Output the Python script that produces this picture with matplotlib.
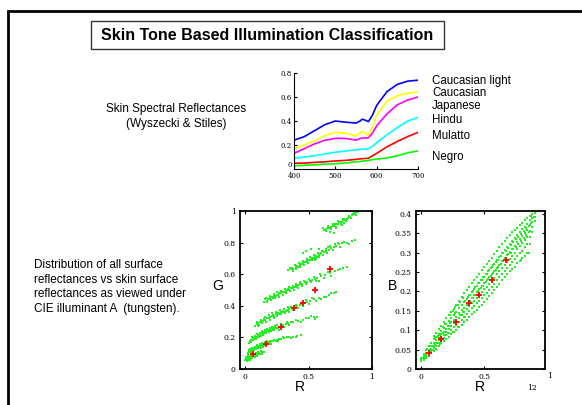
import matplotlib
matplotlib.use('Agg')
import matplotlib.pyplot as plt
from matplotlib.patches import Rectangle

plt.rcParams['font.family'] = ['Liberation Sans', 'DejaVu Sans']

# spectral reflectance curves (Wyszecki & Stiles)
wavelength = [400, 425, 450, 475, 500, 525, 550, 560, 565, 570, 580, 590, 600, 625, 650, 675, 700]
caucasian_light = [.24, .27, .32, .37, .40, .39, .383, .40, .415, .41, .395, .45, .53, .645, .705, .732, .74]
caucasian = [.17, .20, .235, .28, .305, .298, .275, .30, .315, .30, .28, .35, .45, .565, .61, .632, .64]
japanese = [.13, .17, .21, .24, .255, .255, .24, .255, .258, .258, .26, .30, .36, .46, .535, .575, .60]
hindu = [.09, .10, .11, .125, .14, .15, .16, .165, .165, .165, .168, .19, .22, .285, .345, .40, .43]
mulatto = [.048, .05, .055, .06, .067, .072, .08, .085, .086, .087, .09, .11, .13, .185, .23, .27, .305]
negro = [.028, .03, .035, .04, .044, .05, .06, .063, .065, .067, .072, .078, .083, .092, .11, .135, .15]
skin_names = ['Caucasian light', 'Caucasian', 'Japanese', 'Hindu', 'Mulatto', 'Negro']
skin_colors = ['#0000ff', '#ffff00', '#ff00ff', '#00ffff', '#ff0000', '#00ff00']

# all surfaces, (R, G) under illuminant A - the streaks in the left plot
rg_band1 = [(0.00, 0.060), (0.01, 0.065), (0.02, 0.070), (0.02, 0.058), (0.03, 0.075), (0.03, 0.066),
            (0.04, 0.072), (0.05, 0.080), (0.05, 0.070), (0.06, 0.085), (0.07, 0.082), (0.07, 0.092),
            (0.08, 0.090), (0.09, 0.095), (0.09, 0.086), (0.10, 0.098), (0.11, 0.100), (0.12, 0.097),
            (0.13, 0.104), (0.14, 0.106), (0.15, 0.110), (0.01, 0.075), (0.04, 0.062), (0.11, 0.092),
            (0.015, 0.052), (0.025, 0.080), (0.035, 0.060), (0.045, 0.088), (0.055, 0.072), (0.065, 0.098),
            (0.075, 0.078), (0.085, 0.102), (0.095, 0.084), (0.105, 0.108), (0.125, 0.112), (0.135, 0.096),
            (0.005, 0.068), (0.015, 0.062)]
rg_band2 = [(0.02, 0.100), (0.03, 0.110), (0.03, 0.120), (0.04, 0.118), (0.05, 0.125), (0.05, 0.115),
            (0.06, 0.128), (0.07, 0.132), (0.07, 0.122), (0.08, 0.135), (0.09, 0.140), (0.09, 0.130),
            (0.10, 0.142), (0.11, 0.145), (0.12, 0.150), (0.12, 0.140), (0.13, 0.152), (0.14, 0.155),
            (0.15, 0.150), (0.16, 0.160), (0.17, 0.162), (0.18, 0.165), (0.19, 0.170), (0.20, 0.168),
            (0.21, 0.175), (0.22, 0.176), (0.24, 0.180), (0.25, 0.185), (0.28, 0.190), (0.31, 0.195),
            (0.35, 0.200), (0.38, 0.205), (0.41, 0.210), (0.44, 0.215), (0.30, 0.200), (0.36, 0.195),
            (0.025, 0.098), (0.035, 0.128), (0.045, 0.108), (0.055, 0.135), (0.065, 0.115), (0.075, 0.142),
            (0.085, 0.125), (0.095, 0.150), (0.105, 0.132), (0.115, 0.158), (0.125, 0.135), (0.135, 0.165),
            (0.145, 0.142), (0.155, 0.170), (0.165, 0.150), (0.175, 0.175), (0.185, 0.158), (0.195, 0.180),
            (0.205, 0.160), (0.23, 0.185), (0.26, 0.175), (0.27, 0.192), (0.33, 0.205), (0.40, 0.203)]
rg_band3 = [(0.03, 0.165), (0.04, 0.180), (0.05, 0.185), (0.05, 0.175), (0.06, 0.195), (0.07, 0.190),
            (0.08, 0.200), (0.08, 0.210), (0.09, 0.205), (0.10, 0.212), (0.11, 0.215), (0.11, 0.205),
            (0.12, 0.220), (0.13, 0.225), (0.14, 0.222), (0.14, 0.232), (0.15, 0.230), (0.16, 0.236),
            (0.17, 0.240), (0.18, 0.238), (0.19, 0.245), (0.20, 0.248), (0.21, 0.252), (0.22, 0.250),
            (0.23, 0.258), (0.24, 0.260), (0.25, 0.262), (0.26, 0.258), (0.27, 0.268), (0.29, 0.272),
            (0.30, 0.276), (0.32, 0.282), (0.34, 0.288), (0.36, 0.295), (0.38, 0.298), (0.42, 0.305),
            (0.46, 0.312), (0.50, 0.320), (0.54, 0.326), (0.57, 0.332), (0.44, 0.300), (0.48, 0.322),
            (0.045, 0.170), (0.055, 0.200), (0.065, 0.182), (0.075, 0.212), (0.085, 0.192), (0.095, 0.222),
            (0.105, 0.200), (0.115, 0.230), (0.125, 0.210), (0.135, 0.240), (0.145, 0.218), (0.155, 0.248),
            (0.165, 0.225), (0.175, 0.255), (0.185, 0.232), (0.195, 0.262), (0.205, 0.238), (0.215, 0.268),
            (0.225, 0.245), (0.235, 0.272), (0.255, 0.280), (0.265, 0.250), (0.285, 0.285), (0.31, 0.265),
            (0.33, 0.295), (0.35, 0.280), (0.40, 0.310), (0.52, 0.335), (0.55, 0.318)]
rg_band4 = [(0.08, 0.270), (0.09, 0.285), (0.10, 0.290), (0.11, 0.280), (0.12, 0.298), (0.13, 0.300),
            (0.14, 0.305), (0.15, 0.315), (0.16, 0.310), (0.17, 0.320), (0.18, 0.325), (0.19, 0.322),
            (0.20, 0.332), (0.21, 0.335), (0.22, 0.340), (0.23, 0.338), (0.24, 0.345), (0.25, 0.350),
            (0.26, 0.352), (0.27, 0.350), (0.28, 0.358), (0.29, 0.362), (0.30, 0.365), (0.31, 0.362),
            (0.32, 0.370), (0.33, 0.375), (0.34, 0.372), (0.35, 0.380), (0.37, 0.385), (0.39, 0.390),
            (0.41, 0.398), (0.43, 0.402), (0.45, 0.410), (0.47, 0.418), (0.49, 0.425), (0.51, 0.432),
            (0.54, 0.440), (0.58, 0.450), (0.62, 0.458), (0.66, 0.470), (0.70, 0.480), (0.72, 0.490),
            (0.60, 0.442),
            (0.095, 0.300), (0.105, 0.275), (0.125, 0.312), (0.135, 0.290), (0.155, 0.328), (0.165, 0.300),
            (0.185, 0.340), (0.195, 0.312), (0.215, 0.352), (0.225, 0.325), (0.245, 0.362), (0.255, 0.335),
            (0.275, 0.372), (0.285, 0.345), (0.305, 0.382), (0.315, 0.352), (0.335, 0.390), (0.345, 0.362),
            (0.36, 0.395), (0.38, 0.372), (0.40, 0.408), (0.42, 0.385), (0.44, 0.420), (0.46, 0.400),
            (0.48, 0.435), (0.50, 0.412), (0.53, 0.450), (0.56, 0.430), (0.64, 0.455), (0.68, 0.478)]
rg_band5 = [(0.15, 0.425), (0.16, 0.440), (0.17, 0.430), (0.18, 0.445), (0.19, 0.440), (0.20, 0.450),
            (0.21, 0.455), (0.22, 0.452), (0.23, 0.462), (0.24, 0.465), (0.25, 0.470), (0.26, 0.468),
            (0.27, 0.478), (0.28, 0.480), (0.29, 0.485), (0.30, 0.490), (0.31, 0.488), (0.32, 0.495),
            (0.33, 0.500), (0.34, 0.505), (0.35, 0.502), (0.36, 0.510), (0.37, 0.515), (0.38, 0.512),
            (0.39, 0.520), (0.40, 0.525), (0.41, 0.522), (0.42, 0.530), (0.43, 0.535), (0.45, 0.540),
            (0.47, 0.548), (0.49, 0.552), (0.51, 0.560), (0.53, 0.565), (0.55, 0.572), (0.57, 0.578),
            (0.60, 0.590), (0.63, 0.598), (0.67, 0.610), (0.71, 0.622), (0.75, 0.635), (0.80, 0.648),
            (0.58, 0.560), (0.68, 0.590),
            (0.165, 0.450), (0.175, 0.425), (0.195, 0.462), (0.205, 0.438), (0.225, 0.475), (0.235, 0.450),
            (0.255, 0.485), (0.265, 0.458), (0.285, 0.495), (0.295, 0.470), (0.315, 0.505), (0.325, 0.482),
            (0.345, 0.518), (0.355, 0.492), (0.375, 0.528), (0.385, 0.500), (0.405, 0.538), (0.415, 0.510),
            (0.435, 0.548), (0.445, 0.525), (0.465, 0.560), (0.48, 0.535), (0.50, 0.572), (0.52, 0.548),
            (0.54, 0.582), (0.56, 0.560), (0.59, 0.600), (0.62, 0.578), (0.65, 0.612), (0.73, 0.625),
            (0.77, 0.642)]
rg_band6 = [(0.34, 0.625), (0.36, 0.630), (0.37, 0.640), (0.38, 0.635), (0.40, 0.645), (0.41, 0.652),
            (0.42, 0.648), (0.43, 0.660), (0.44, 0.665), (0.45, 0.662), (0.46, 0.672), (0.47, 0.678),
            (0.48, 0.675), (0.49, 0.685), (0.50, 0.690), (0.51, 0.688), (0.52, 0.698), (0.53, 0.702),
            (0.54, 0.700), (0.55, 0.710), (0.56, 0.715), (0.57, 0.712), (0.58, 0.722), (0.59, 0.728),
            (0.60, 0.732), (0.62, 0.740), (0.64, 0.748), (0.66, 0.755), (0.68, 0.765), (0.70, 0.772),
            (0.72, 0.780), (0.74, 0.790), (0.76, 0.795), (0.80, 0.800), (0.84, 0.808), (0.87, 0.815),
            (0.65, 0.770), (0.71, 0.790), (0.55, 0.690), (0.48, 0.750), (0.52, 0.760),
            (0.355, 0.640), (0.375, 0.620), (0.395, 0.658), (0.405, 0.635), (0.425, 0.670), (0.435, 0.648),
            (0.455, 0.685), (0.465, 0.660), (0.485, 0.698), (0.495, 0.672), (0.515, 0.710), (0.525, 0.688),
            (0.545, 0.722), (0.555, 0.698), (0.575, 0.735), (0.585, 0.710), (0.605, 0.748), (0.615, 0.722),
            (0.635, 0.760), (0.645, 0.735), (0.67, 0.778), (0.69, 0.752), (0.73, 0.795), (0.75, 0.772),
            (0.78, 0.805), (0.82, 0.790), (0.46, 0.735), (0.58, 0.760)]
rg_band7 = [(0.62, 0.880), (0.64, 0.885), (0.65, 0.895), (0.66, 0.890), (0.68, 0.900), (0.69, 0.908),
            (0.70, 0.905), (0.71, 0.915), (0.72, 0.920), (0.73, 0.918), (0.74, 0.928), (0.75, 0.932),
            (0.76, 0.930), (0.77, 0.940), (0.78, 0.945), (0.79, 0.950), (0.80, 0.948), (0.81, 0.958),
            (0.82, 0.962), (0.83, 0.965), (0.84, 0.972), (0.85, 0.978), (0.86, 0.982), (0.87, 0.988),
            (0.88, 0.992), (0.89, 0.996), (0.67, 0.870), (0.72, 0.895), (0.76, 0.910),
            (0.615, 0.890), (0.635, 0.872), (0.655, 0.905), (0.675, 0.885), (0.695, 0.918), (0.715, 0.900),
            (0.735, 0.935), (0.755, 0.915), (0.775, 0.950), (0.795, 0.935), (0.815, 0.968), (0.835, 0.955),
            (0.855, 0.985), (0.875, 0.975), (0.895, 0.998), (0.70, 0.860), (0.78, 0.925)]
rg_bands = [rg_band1, rg_band2, rg_band3, rg_band4, rg_band5, rg_band6, rg_band7]

# all surfaces, (R, B) - the wedge in the right plot, column by column
rb_columns = [
    (0.00, [.020, .023, .026, .029]),
    (0.02, [.024, .028, .031, .035, .039]),
    (0.04, [.028, .033, .037, .042, .049]),
    (0.06, [.034, .038, .044, .050, .058]),
    (0.08, [.040, .046, .051, .058, .068]),
    (0.10, [.046, .053, .060, .068, .078, .084]),
    (0.12, [.052, .060, .066, .074, .083, .093]),
    (0.14, [.058, .066, .074, .081, .090, .102]),
    (0.16, [.066, .072, .081, .089, .097, .110]),
    (0.18, [.071, .079, .088, .096, .106, .120]),
    (0.20, [.076, .088, .095, .104, .115, .131]),
    (0.22, [.083, .094, .102, .112, .123, .138]),
    (0.24, [.090, .101, .110, .120, .131, .147]),
    (0.26, [.096, .108, .118, .127, .139, .155]),
    (0.28, [.101, .114, .124, .135, .148, .165]),
    (0.30, [.107, .121, .132, .143, .156, .176]),
    (0.32, [.113, .127, .139, .151, .165, .185]),
    (0.34, [.120, .135, .146, .158, .172, .195]),
    (0.36, [.127, .141, .154, .166, .181, .203]),
    (0.38, [.134, .149, .161, .174, .190, .212]),
    (0.40, [.141, .156, .170, .182, .198, .222]),
    (0.42, [.147, .163, .176, .190, .206, .230]),
    (0.44, [.153, .171, .184, .198, .214, .238]),
    (0.46, [.160, .176, .191, .206, .222, .246]),
    (0.48, [.165, .183, .198, .213, .230, .254]),
    (0.50, [.172, .190, .205, .221, .238, .263]),
    (0.52, [.180, .197, .212, .228, .246, .270]),
    (0.54, [.188, .204, .220, .236, .254, .278]),
    (0.56, [.196, .212, .227, .244, .262, .286]),
    (0.58, [.204, .219, .235, .252, .270, .296]),
    (0.60, [.212, .228, .244, .260, .280, .305]),
    (0.62, [.220, .236, .252, .268, .289, .314]),
    (0.64, [.228, .244, .260, .277, .298, .322]),
    (0.66, [.236, .252, .268, .285, .306, .330]),
    (0.68, [.244, .260, .276, .294, .314, .338]),
    (0.70, [.252, .268, .284, .302, .322, .346]),
    (0.72, [.258, .276, .292, .310, .330, .352]),
    (0.74, [.264, .283, .300, .318, .338, .358]),
    (0.76, [.272, .290, .308, .326, .345, .364]),
    (0.78, [.278, .298, .316, .334, .352, .370]),
    (0.80, [.285, .305, .324, .342, .360, .376]),
    (0.82, [.292, .313, .332, .350, .367, .383]),
    (0.84, [.300, .322, .340, .357, .374, .389]),
    (0.86, [.322, .340, .356, .372, .385, .395]),
    (0.88, [.352, .366, .378, .390, .399]),
    (0.90, [.382, .392, .402]),
]
rb_cloud = [
    (0.01, 0.028), (0.03, 0.030), (0.03, 0.038), (0.05, 0.040), (0.05, 0.052), (0.07, 0.058),
    (0.07, 0.044), (0.09, 0.048), (0.09, 0.060), (0.11, 0.064), (0.11, 0.080), (0.13, 0.086),
    (0.13, 0.068), (0.15, 0.064), (0.15, 0.088), (0.17, 0.092), (0.17, 0.108), (0.19, 0.115),
    (0.19, 0.088), (0.21, 0.094), (0.21, 0.112), (0.23, 0.118), (0.23, 0.140), (0.25, 0.150),
    (0.25, 0.095), (0.27, 0.145), (0.27, 0.160), (0.29, 0.165), (0.29, 0.108), (0.31, 0.172),
    (0.31, 0.140), (0.33, 0.182), (0.33, 0.148), (0.35, 0.135), (0.35, 0.175), (0.37, 0.185),
    (0.37, 0.165), (0.39, 0.190), (0.39, 0.175), (0.41, 0.200), (0.41, 0.182), (0.43, 0.210),
    (0.43, 0.190), (0.45, 0.222), (0.45, 0.200), (0.47, 0.230), (0.47, 0.208), (0.49, 0.238),
    (0.49, 0.215), (0.51, 0.245), (0.51, 0.225), (0.53, 0.252), (0.53, 0.232), (0.55, 0.260),
    (0.55, 0.240), (0.57, 0.268), (0.57, 0.248), (0.59, 0.275), (0.59, 0.255), (0.61, 0.282),
    (0.61, 0.262), (0.63, 0.290), (0.63, 0.270), (0.65, 0.298), (0.65, 0.278), (0.67, 0.305),
    (0.67, 0.285), (0.69, 0.312), (0.69, 0.295), (0.71, 0.320), (0.71, 0.300), (0.73, 0.328),
    (0.73, 0.308), (0.75, 0.335), (0.75, 0.315), (0.77, 0.340), (0.77, 0.322), (0.79, 0.348),
    (0.79, 0.330), (0.81, 0.355), (0.81, 0.338), (0.83, 0.362), (0.83, 0.345), (0.85, 0.368),
    (0.85, 0.352), (0.87, 0.375), (0.87, 0.395), (0.89, 0.392), (0.85, 0.300), (0.79, 0.280),
]

# skin surfaces (red crosses)
skin_r_g = [0.063, 0.161, 0.281, 0.385, 0.456, 0.552, 0.669]
skin_g = [0.093, 0.156, 0.264, 0.384, 0.418, 0.498, 0.633]
skin_r_b = [0.061, 0.159, 0.280, 0.381, 0.458, 0.563, 0.675]
skin_b = [0.042, 0.076, 0.122, 0.170, 0.191, 0.230, 0.282]

W, H = 582, 405
fig = plt.figure(figsize=(W / 100, H / 100), dpi=100)


def px_axes(x0, y0, x1, y1):
    return fig.add_axes([x0 / W, 1 - y1 / H, (x1 - x0) / W, (y1 - y0) / H])


def px_text(x, y, s, **kw):
    fig.text(x / W, 1 - y / H, s, **kw)


# outer frame and title box
fig.add_artist(Rectangle((8 / W, -0.2), 2, 1.2 - 11 / H, transform=fig.transFigure,
                         fill=False, lw=2, ec='black'))
fig.add_artist(Rectangle((91 / W, 1 - 49 / H), (444 - 91) / W, 28 / H, transform=fig.transFigure,
                         fill=False, lw=1, ec='#333333'))
px_text(267, 35, 'Skin Tone Based Illumination Classification', ha='center', va='center',
        fontsize=11.5, fontweight='bold')

# spectral reflectances
px_text(176, 109, 'Skin Spectral Reflectances', ha='center', va='center', fontsize=8.5)
px_text(176, 124, '(Wyszecki & Stiles)', ha='center', va='center', fontsize=8.5)

ax0 = px_axes(294, 73, 418, 169)
curves = [caucasian_light, caucasian, japanese, hindu, mulatto, negro]
for vals, col in zip(curves, skin_colors):
    ax0.plot(wavelength, vals, color=col, lw=1.2)
ax0.set_xlim(400, 700)
ax0.set_ylim(0, 0.8)
ax0.set_xticks([400, 500, 600, 700])
ax0.set_yticks([0, 0.2, 0.4, 0.6, 0.8])
ax0.set_yticklabels(['0', '0.2', '0.4', '0.6', '0.8'])
ax0.spines['top'].set_visible(False)
ax0.spines['right'].set_visible(False)
ax0.tick_params(direction='in', length=2, pad=1.5, width=0.8)
ax0.tick_params(axis='x', pad=2.5)
for lab in ax0.get_xticklabels() + ax0.get_yticklabels():
    lab.set_fontfamily('DejaVu Serif')
    lab.set_fontsize(5)
ax0.get_yticklabels()[0].set_verticalalignment('bottom')
label_y = [81, 93, 106, 120, 136, 157]
for name, ly in zip(skin_names, label_y):
    px_text(432, ly, name, ha='left', va='center', fontsize=8.3)

# left explanation
desc = ['Distribution of all surface', 'reflectances vs skin surface',
        'reflectances as viewed under', 'CIE illuminant A  (tungsten).']
for i, line in enumerate(desc):
    px_text(34, 265 + i * 14.7, line, ha='left', va='center', fontsize=8.5)


def style_scatter(ax):
    for sp in ax.spines.values():
        sp.set_linewidth(1.3)
    ax.tick_params(direction='in', length=2.5, width=0.8, pad=3, top=True, right=True)
    for lab in ax.get_xticklabels() + ax.get_yticklabels():
        lab.set_fontfamily('DejaVu Serif')
        lab.set_fontsize(5.5)


green = '#22ee22'

# G vs R
ax1 = px_axes(240, 211, 372, 369)
for band in rg_bands:
    ax1.plot([p[0] for p in band], [p[1] for p in band], 's', color=green, ms=2.0, mew=0)
ax1.plot(skin_r_g, skin_g, '+', color='red', ms=5, mew=1.3)
ax1.set_xlim(-0.04, 1)
ax1.set_ylim(0, 1)
ax1.set_xticks([0, 0.5, 1])
ax1.set_xticklabels(['0', '0.5', '1'])
ax1.set_yticks([0, 0.2, 0.4, 0.6, 0.8, 1])
ax1.set_yticklabels(['0', '0.2', '0.4', '0.6', '0.8', '1'])
style_scatter(ax1)
px_text(218, 286, 'G', ha='center', va='center', fontsize=10)
px_text(300, 387, 'R', ha='center', va='center', fontsize=10)

# B vs R
ax2 = px_axes(416, 211, 545, 369)
col_r = [x for x, ys in rb_columns for _ in ys]
col_b = [y for _, ys in rb_columns for y in ys]
ax2.plot(col_r, col_b, 's', color=green, ms=2.0, mew=0)
ax2.plot([p[0] for p in rb_cloud], [p[1] for p in rb_cloud], 's', color=green, ms=2.0, mew=0)
ax2.plot(skin_r_b, skin_b, '+', color='red', ms=5, mew=1.3)
ax2.set_xlim(-0.04, 0.98)
ax2.set_ylim(0, 0.407)
ax2.set_xticks([0, 0.5])
ax2.set_xticklabels(['0', '0.5'])
ax2.set_yticks([0, 0.05, 0.1, 0.15, 0.2, 0.25, 0.3, 0.35, 0.4])
ax2.set_yticklabels(['0', '0.05', '0.1', '0.15', '0.2', '0.25', '0.3', '0.35', '0.4'])
style_scatter(ax2)
px_text(550, 376, '1', ha='center', va='center', fontfamily='DejaVu Serif', fontsize=5.5)
px_text(392, 286, 'B', ha='center', va='center', fontsize=10)
px_text(480, 387, 'R', ha='center', va='center', fontsize=10)
px_text(532, 388, '12', ha='center', va='center', fontfamily='DejaVu Serif', fontsize=5.5)

fig.savefig('out.png', dpi=100)
